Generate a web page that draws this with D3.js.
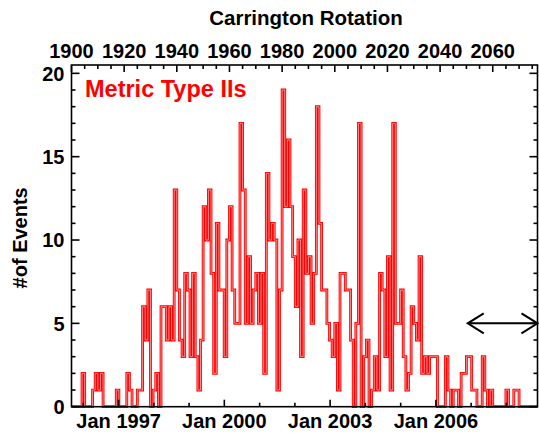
<!DOCTYPE html>
<html><head><meta charset="utf-8">
<script src="https://cdn.jsdelivr.net/npm/d3@7"></script>
<style>body{margin:0;background:#fff}svg{display:block}text{font-family:"Liberation Sans",Arial,sans-serif;font-weight:bold}</style>
</head><body>
<svg id="c" width="539" height="433"></svg>
<script>
// Data: metric type II events per Carrington rotation, CR 1900 .. 2076
const crStart = 1900;
const crEnd = 2077;
const counts = [
0,0,0,0,2,0,0,0,1,2, 1,2,0,0,0,0,0,1,0,0,
0,2,1,0,0,1,1,6,4,7, 0,1,2,0,6,6,4,6,4,13,
7,4,3,8,7,3,8,3,1,4, 12,10,13,8,2,11,7,7,3,10,
12,7,5,5,17,13,5,9,5,7, 8,5,8,2,14,10,11,10,1,7,
19,12,16,12,9,6,10,3,13,8, 9,5,8,18,11,7,7,5,4,3,
5,1,8,8,7,7,4,0,5,17, 0,3,4,0,1,3,1,8,7,3,
9,1,17,5,5,7,3,1,2,6, 5,4,9,2,3,2,3,3,3,0,
0,0,3,1,0,1,1,0,2,2, 3,3,1,1,0,0,3,1,0,1,
0,0,0,0,0,1,0,0,1,1, 0,0,0,0,0,0,0
];
const crTickLabels = [1900,1920,1940,1960,1980,2000,2020,2040,2060];
const yTickValues = [0,5,10,15,20];
const yearTicks = [1996,1997,1998,1999,2000,2001,2002,2003,2004,2005,2006,2007,2008];
const yearLabels = [1997,2000,2003,2006];
const arrowRange = [2050.5, 2077];
const arrowValue = 5;
const crAtJan1997 = 1917.9;
const daysPerRotation = 27.2753;

const svg = d3.select('#c');
const L = 71.5, R = 537.5, T = 65, B = 406.7;
const x = d3.scaleLinear().domain([crStart, crEnd]).range([L, R]);
const y = d3.scaleLinear().domain([0, 20.5]).range([B, T]);
const red = '#ff0000';

function yearToCR(yr){
  const d0 = Date.UTC(1997,0,1), d = Date.UTC(yr,0,1);
  return crAtJan1997 + (d - d0)/86400000/daysPerRotation;
}

// histogram step line
const pts = counts.map((v,i)=>[crStart+i, v]);
pts.push([crEnd, counts[counts.length-1]]);
const line = d3.line().x(d=>x(d[0])).y(d=>y(d[1])).curve(d3.curveStepAfter);
svg.append('path').attr('d', line(pts)).attr('fill','none').attr('stroke',red).attr('stroke-width',2.8);
svg.append('path').attr('d', line(pts)).attr('fill','none').attr('stroke','#ffa8a8').attr('stroke-width',0.8);

// frame
const g = svg.append('g').attr('stroke','#000').attr('stroke-width',1.6).attr('fill','none');
g.append('rect').attr('x',L).attr('y',T).attr('width',R-L).attr('height',B-T);

// y ticks left and right
const yMinor = d3.range(0, 21, 1);
yMinor.forEach(v=>{
  const len = v%5===0 ? 8 : 4;
  g.append('line').attr('x1',L).attr('x2',L+len).attr('y1',y(v)).attr('y2',y(v));
  g.append('line').attr('x1',R).attr('x2',R-len).attr('y1',y(v)).attr('y2',y(v));
});
svg.append('g').selectAll('text').data(yTickValues).join('text')
  .attr('x', L-7).attr('y', d=>y(d)).attr('dy','0.36em').attr('text-anchor','end')
  .attr('font-size',20).text(d=>d);

// top CR axis
d3.range(crStart, crEnd, 5).forEach(c=>{
  const len = c%20===0 ? 7 : 4;
  g.append('line').attr('x1',x(c)).attr('x2',x(c)).attr('y1',T).attr('y2',T+len);
});
svg.append('g').selectAll('text').data(crTickLabels).join('text')
  .attr('x', d=>x(d)).attr('y', 58).attr('text-anchor','middle')
  .attr('font-size',20).text(d=>d);
svg.append('text').attr('x',306).attr('y',25).attr('text-anchor','middle').attr('font-size',20.5).text('Carrington Rotation');

// bottom date axis
yearTicks.forEach(yr=>{
  const c = yearToCR(yr);
  if (c < crStart || c > crEnd) return;
  const len = yearLabels.includes(yr) ? 7 : 4;
  g.append('line').attr('x1',x(c)).attr('x2',x(c)).attr('y1',B).attr('y2',B-len);
});
svg.append('g').selectAll('text').data(yearLabels).join('text')
  .attr('x', d=>x(yearToCR(d))).attr('y', 428).attr('text-anchor','middle')
  .attr('font-size',20).text(d=>'Jan '+d);

// y label
svg.append('text').attr('transform',`translate(27,${(T+B)/2+2}) rotate(-90)`).attr('text-anchor','middle')
  .attr('font-size',20).text('#of Events');

// series label
svg.append('text').attr('x',85).attr('y',97).attr('fill',red).attr('font-size',23.5)
  .text('Metric Type IIs');

// arrow
const ax1 = x(arrowRange[0]), ax2 = x(arrowRange[1]), ay = y(arrowValue);
const ag = svg.append('g').attr('stroke','#000').attr('stroke-width',2).attr('fill','none');
ag.append('line').attr('x1',ax1).attr('x2',ax2).attr('y1',ay).attr('y2',ay);
ag.append('path').attr('d',`M${ax1+16},${ay-10}L${ax1},${ay}L${ax1+16},${ay+10}`);
ag.append('path').attr('d',`M${ax2-16},${ay-10}L${ax2},${ay}L${ax2-16},${ay+10}`);
</script>
</body></html>
